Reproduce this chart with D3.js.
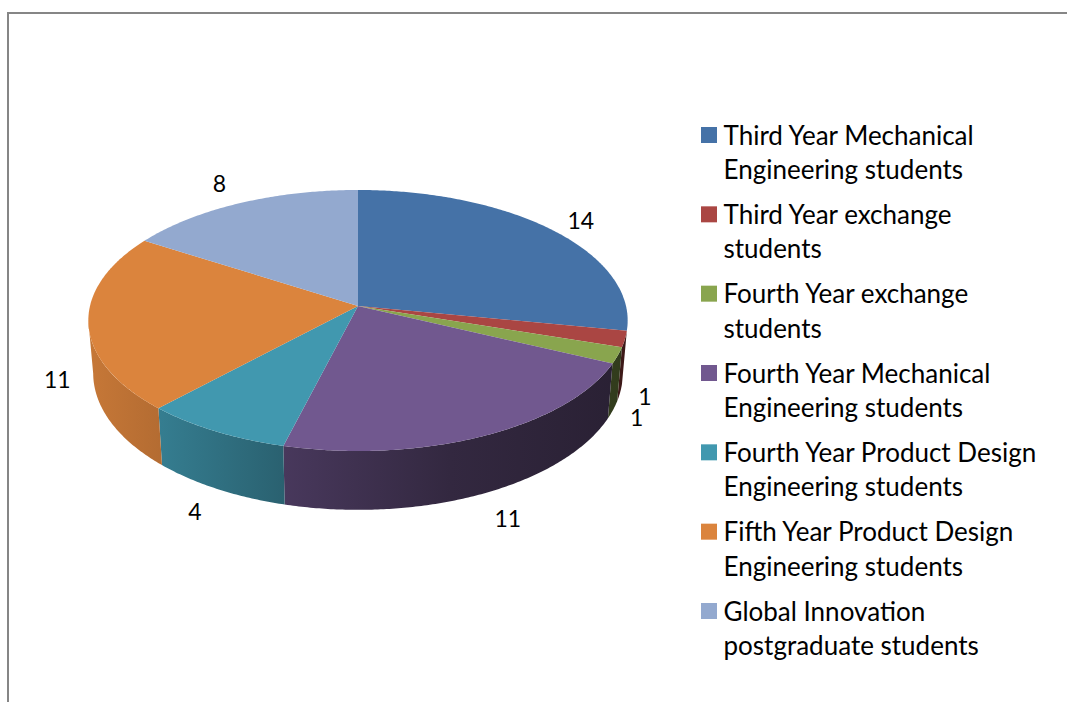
<!DOCTYPE html>
<html>
<head>
<meta charset="utf-8">
<script src="https://cdnjs.cloudflare.com/ajax/libs/d3/7.8.5/d3.min.js"></script>
<style>
  html, body { margin: 0; padding: 0; background: #fff; }
  svg { display: block; }
  text { font-family: Lato, "Open Sans", sans-serif; fill: #000; }
</style>
</head>
<body>
<svg id="chart" width="1067" height="702"></svg>
<script>
// Chart data
const categoryLines = [
  ['Third Year Mechanical', 'Engineering students'],
  ['Third Year exchange', 'students'],
  ['Fourth Year exchange', 'students'],
  ['Fourth Year Mechanical', 'Engineering students'],
  ['Fourth Year Product Design', 'Engineering students'],
  ['Fifth Year Product Design', 'Engineering students'],
  ['Global Innovation', 'postgraduate students']
];
const values = [14, 1, 1, 11, 4, 11, 8];
const colors = ['#4572A7', '#AA4643', '#89A54E', '#71588F', '#4198AF', '#DB843D', '#93A9CF'];

const svg = d3.select('#chart');
const width = 1067, height = 702;

// Frame, the chart area is cut off on the right and at the bottom
svg.append('path')
  .attr('d', `M8,${height}V13H${width}`)
  .attr('fill', 'none')
  .attr('stroke', '#868686')
  .attr('stroke-width', 2);

// Perspective set up for the tilted disc
const cx = 358, cy = 306;
const radius = 268, tiltY = 128.9, persp = 0.111;
const wallDrop = 52, wallRadiusScale = 0.982, wallTiltY = 135;

// Top rim of the pie, angle is clockwise from 12 o'clock
function topPoint(t) {
  const u = Math.sin(t), v = -Math.cos(t), d = 1 - persp * v;
  return [cx + u * radius / d, cy + v * tiltY / d];
}

// Bottom rim, slightly narrower because it is further away
function bottomPoint(t) {
  const u = Math.sin(t), v = -Math.cos(t), d = 1 - persp * v;
  return [cx + u * radius * wallRadiusScale / d, cy + wallDrop + v * wallTiltY / d];
}

function arcSamples(a0, a1) {
  const n = Math.max(2, Math.ceil((a1 - a0) / 0.01));
  return d3.range(n + 1).map(i => a0 + (a1 - a0) * i / n);
}

const slices = d3.pie().sort(null).value(d => d)(values);
const color = d3.scaleOrdinal().domain(d3.range(values.length)).range(colors);
const line = d3.line();

// Wall shading runs dark towards the right side
const defs = svg.append('defs');
const shade = d3.scaleLinear()
  .domain([93, 160, 284, 450, 628])
  .range([0.9, 0.82, 0.64, 0.45, 0.36]);

values.forEach((v, i) => {
  const grad = defs.append('linearGradient')
    .attr('id', 'wall' + i)
    .attr('gradientUnits', 'userSpaceOnUse')
    .attr('x1', 93).attr('x2', 628)
    .attr('y1', 0).attr('y2', 0);
  shade.domain().forEach(x => {
    const c = d3.rgb(colors[i]);
    const s = shade(x);
    grad.append('stop')
      .attr('offset', (x - 93) / (628 - 93))
      .attr('stop-color', d3.rgb(c.r * s, c.g * s, c.b * s).formatHex());
  });
});

// Side walls, from silhouette to silhouette of the rim. The blue wall is
// hidden in the original so the right end stops at the red slice.
const wallFrom = slices[1].startAngle, wallTo = Math.PI * 1.464;
svg.append('g').selectAll('path')
  .data(slices.filter(d => d.endAngle > wallFrom && d.startAngle < wallTo))
  .join('path')
  .attr('d', d => {
    const a = arcSamples(Math.max(d.startAngle, wallFrom), Math.min(d.endAngle, wallTo));
    return line(a.map(topPoint).concat(a.slice().reverse().map(bottomPoint))) + 'Z';
  })
  .attr('fill', d => `url(#wall${d.index})`);

// Top faces
svg.append('g').selectAll('path')
  .data(slices)
  .join('path')
  .attr('d', d => line([[cx, cy]].concat(arcSamples(d.startAngle, d.endAngle).map(topPoint))) + 'Z')
  .attr('fill', d => color(d.index));

// Data labels, nudged off the rim by hand like the original
const labelNudge = [[30, -8], [20, 58], [19, 62], [23, 83], [-20, 81], [-31, 58], [-21, -19]];
svg.append('g').selectAll('text')
  .data(slices)
  .join('text')
  .attr('x', d => topPoint((d.startAngle + d.endAngle) / 2)[0] + labelNudge[d.index][0])
  .attr('y', d => topPoint((d.startAngle + d.endAngle) / 2)[1] + labelNudge[d.index][1])
  .attr('dy', '0.35em')
  .attr('text-anchor', 'middle')
  .attr('font-size', 23)
  .text(d => d.value);

// Legend
const legendY = d3.scaleLinear().domain([0, values.length - 1]).range([135, 611]);
const legend = svg.append('g').selectAll('g')
  .data(categoryLines)
  .join('g')
  .attr('transform', (d, i) => `translate(701,${legendY(i)})`);

legend.append('rect')
  .attr('y', -8)
  .attr('width', 16)
  .attr('height', 16)
  .attr('fill', (d, i) => colors[i]);

legend.selectAll('text')
  .data(d => d)
  .join('text')
  .attr('x', 22.5)
  .attr('y', (d, i) => 0.5 + i * 34.3)
  .attr('dy', '0.35em')
  .attr('font-size', 26)
  .text(d => d);
</script>
</body>
</html>
